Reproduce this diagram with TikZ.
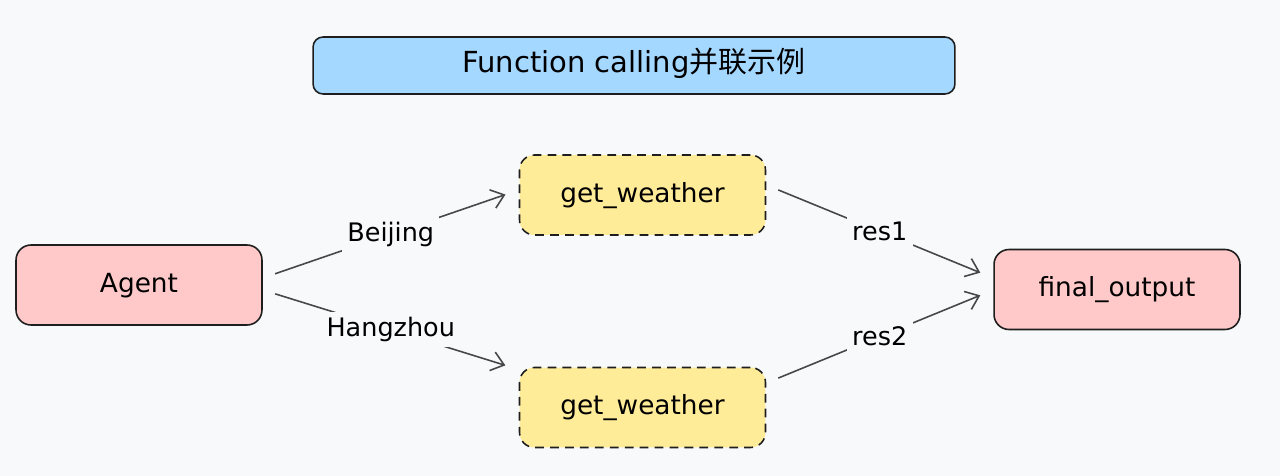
\documentclass[tikz,border=0pt]{standalone}
\usepackage{fontspec}
\setmainfont{DejaVu Sans}
\newfontfamily\cjk{Noto Sans CJK SC}
\usepackage{xcolor}
\usepackage{tikz}
\usetikzlibrary{arrows.meta}

\definecolor{bgcol}{HTML}{F8F9FA}
\definecolor{titlecol}{HTML}{A5D8FF}
\definecolor{pinkcol}{HTML}{FFC9C9}
\definecolor{yellowcol}{HTML}{FFEC99}
\definecolor{inkcol}{HTML}{1E1E1E}
\definecolor{arrowcol}{HTML}{474747}

\tikzset{
    box/.style={draw=inkcol, line width=0.9pt, rounded corners=0.3cm, minimum width=4.92cm, minimum height=1.6cm, text height=1.6ex, text depth=0.1ex, font=\fontsize{15}{18}\selectfont},
    toolbox/.style={box, fill=yellowcol, dashed, dash pattern=on 5pt off 3.5pt},
    flow/.style={-{Straight Barb[length=7pt, width=11pt]}, draw=arrowcol, line width=0.9pt, shorten <=0.26cm, shorten >=0.28cm},
    lbl/.style={fill=bgcol, inner sep=3pt, font=\fontsize{14.5}{17}\selectfont}
}

\begin{document}
\begin{tikzpicture}[x=0.02cm, y=-0.02cm]
        \fill[bgcol] (0, 0) rectangle (1280, 476);
        \useasboundingbox (0, 0) rectangle (1280, 476);
        
        \node[box, fill=titlecol, minimum width=12.84cm, minimum height=1.14cm, rounded corners=0.2cm, font=\fontsize{16.5}{19}\selectfont] (title) at (634, 65.5) {Function calling{\cjk 并联示例}};
        
        \node[box, fill=pinkcol] (agent) at (139, 285) {Agent};
        \node[toolbox] (gw1) at (642.5, 195) {get\_weather};
        \node[toolbox] (gw2) at (642.5, 407.5) {get\_weather};
        \node[box, fill=pinkcol] (final) at (1117, 289.5) {final\_output};
        
        \draw[flow] ([yshift=0.14cm]agent.east) -- node[lbl] {Beijing} ([yshift=0.1cm]gw1.west);
        \draw[flow] ([yshift=-0.1cm]agent.east) -- node[lbl] {Hangzhou} ([yshift=0.76cm]gw2.west);
        \draw[flow] ([yshift=0.2cm]gw1.east) -- node[lbl] {res1} ([yshift=0.23cm]final.west);
        \draw[flow] ([yshift=0.49cm]gw2.east) -- node[lbl] {res2} ([yshift=-0.01cm]final.west);
    \end{tikzpicture}
\end{document}
